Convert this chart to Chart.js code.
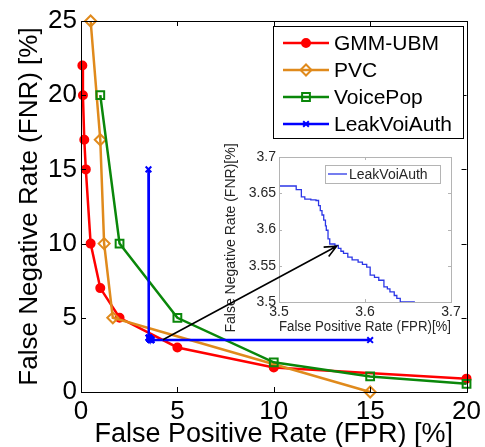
<!DOCTYPE html>
<html>
<head>
<meta charset="utf-8">
<script src="https://cdn.jsdelivr.net/npm/chart.js@4.4.1/dist/chart.umd.min.js"></script>
<style>
  html, body { margin: 0; padding: 0; background: #fff; }
  #wrap { position: relative; width: 485px; height: 447px; }
  canvas { position: absolute; }
</style>
</head>
<body>
<div id="wrap">
  <canvas id="chart" width="485" height="447" style="left:0;top:0"></canvas>
  <canvas id="inset" width="245" height="200" style="left:220px;top:140px"></canvas>
  <canvas id="arrow" width="485" height="447" style="left:0;top:0"></canvas>
</div>
<script>
'use strict';

// values (FPR / FNR in %)
let gmmFpr = [0.07, 0.1, 0.17, 0.25, 0.5, 1, 2, 5, 10, 20];
let gmmFnr = [22, 20, 17, 15, 10, 7, 5, 3, 1.65, 0.9];

let pvcFpr = [0.5, 1, 1.2, 1.65, 15];
let pvcFnr = [25, 17, 10, 5, 0];

let popFpr = [1, 2, 5, 10, 15, 20];
let popFnr = [20, 10, 5, 2, 1.05, 0.55];

// zoomed LeakVoiAuth curve (inset)
let insetFpr = [3.500, 3.515, 3.520, 3.526, 3.530, 3.537, 3.543, 3.546, 3.548, 3.550, 3.552, 3.554,
                3.555, 3.557, 3.559, 3.565, 3.569, 3.572, 3.575, 3.580, 3.585, 3.592, 3.597, 3.602,
                3.606, 3.611, 3.616, 3.622, 3.626, 3.629, 3.634, 3.637, 3.641, 3.658];
let insetFnr = [3.660, 3.660, 3.655, 3.645, 3.642, 3.641, 3.640, 3.633, 3.626, 3.620, 3.613, 3.605,
                3.599, 3.587, 3.580, 3.578, 3.574, 3.570, 3.567, 3.562, 3.558, 3.555, 3.552, 3.548,
                3.537, 3.534, 3.530, 3.521, 3.518, 3.514, 3.509, 3.505, 3.500, 3.500];

// full LeakVoiAuth curve = end points + the zoomed part
let leakFpr = [3.5].concat(insetFpr, [15]);
let leakFnr = [15].concat(insetFnr, [3.5]);

let xTicks = [0, 5, 10, 15, 20];
let yTicks = [0, 5, 10, 15, 20, 25];
let insetXTicks = [3.5, 3.6, 3.7];
let insetYTicks = [3.5, 3.55, 3.6, 3.65, 3.7];

// arrow from the main plot (main units) to the inset (inset units)
let arrowFrom = [4.25, 3.52];
let arrowTo = [3.567, 3.577];

function toPoints(xs, ys) {
    let pts = [];
    for (let i = 0; i < xs.length; i++) pts.push({ x: xs[i], y: ys[i] });
    return pts;
}

const FONT = "'Liberation Sans', Arial, Helvetica, sans-serif";
Chart.defaults.font.family = FONT;

// box round the plot area with MATLAB style inward ticks
const framePlugin = {
    id: 'frame',
    afterDraw(chart, args, opts) {
        let ctx = chart.ctx;
        let a = chart.chartArea;
        let xs = chart.scales.x, ys = chart.scales.y;
        ctx.save();
        ctx.strokeStyle = opts.color;
        ctx.lineWidth = 1;
        ctx.beginPath();
        opts.xTicks.forEach(v => {
            let px = Math.round(xs.getPixelForValue(v)) + 0.5;
            ctx.moveTo(px, a.bottom); ctx.lineTo(px, a.bottom - opts.len);
            ctx.moveTo(px, a.top); ctx.lineTo(px, a.top + opts.len);
        });
        opts.yTicks.forEach(v => {
            let py = Math.round(ys.getPixelForValue(v)) + 0.5;
            ctx.moveTo(a.left, py); ctx.lineTo(a.left + opts.len, py);
            ctx.moveTo(a.right, py); ctx.lineTo(a.right - opts.len, py);
        });
        ctx.stroke();
        ctx.strokeRect(Math.round(a.left) + 0.5, Math.round(a.top) + 0.5,
                       Math.round(a.right - a.left), Math.round(a.bottom - a.top));
        if (opts.sideTitle) {
            let t = opts.sideTitle;
            ctx.fillStyle = t.color;
            ctx.font = t.size + 'px ' + FONT;
            ctx.textAlign = 'center';
            ctx.textBaseline = 'middle';
            ctx.translate(t.x, t.y);
            ctx.rotate(-Math.PI / 2);
            ctx.fillText(t.text, 0, 0);
        }
        ctx.restore();
    }
};

// legend with line + marker samples, in a box
const boxLegendPlugin = {
    id: 'boxLegend',
    afterDraw(chart, args, opts) {
        let ctx = chart.ctx;
        let b = opts.box;
        ctx.save();
        ctx.fillStyle = '#fff';
        ctx.fillRect(b[0], b[1], b[2] - b[0], b[3] - b[1]);
        ctx.strokeStyle = opts.borderColor;
        ctx.lineWidth = 1;
        ctx.strokeRect(b[0] + 0.5, b[1] + 0.5, b[2] - b[0], b[3] - b[1]);
        chart.data.datasets.forEach((ds, i) => {
            let y = opts.firstRow + i * opts.rowGap;
            ctx.strokeStyle = ds.borderColor;
            ctx.lineWidth = ds.borderWidth;
            ctx.beginPath();
            ctx.moveTo(opts.lineX[0], y);
            ctx.lineTo(opts.lineX[1], y);
            ctx.stroke();
            if (ds.pointRadius > 0) {
                ctx.fillStyle = ds.pointBackgroundColor;
                ctx.strokeStyle = ds.borderColor;
                ctx.lineWidth = ds.pointBorderWidth;
                Chart.helpers.drawPoint(ctx, {
                    pointStyle: ds.pointStyle, rotation: 0,
                    radius: ds.pointRadius, borderWidth: ds.pointBorderWidth
                }, (opts.lineX[0] + opts.lineX[1]) / 2, y);
            }
            ctx.fillStyle = opts.textColor;
            ctx.font = opts.fontSize + 'px ' + FONT;
            ctx.textBaseline = 'middle';
            ctx.textAlign = 'left';
            ctx.fillText(ds.label, opts.textX, y + 1);
        });
        ctx.restore();
    }
};

function lineSet(label, xs, ys, color, style, radius, fill, order) {
    return {
        label: label,
        data: toPoints(xs, ys),
        showLine: true,
        borderColor: color,
        backgroundColor: color,
        borderWidth: 2.5,
        pointStyle: style,
        pointRadius: radius,
        pointBackgroundColor: fill,
        pointBorderColor: color,
        pointBorderWidth: 2,
        tension: 0,
        clip: false,
        order: order
    };
}

const noGrid = { display: false, drawTicks: false, tickLength: 0 };

let mainChart = new Chart(document.getElementById('chart'), {
    type: 'scatter',
    data: {
        datasets: [
            lineSet('GMM-UBM', gmmFpr, gmmFnr, '#ff0000', 'circle', 4, '#ff0000', 4),
            lineSet('PVC', pvcFpr, pvcFnr, '#e08a1c', 'rectRot', 5.5, 'rgba(255,255,255,0)', 3),
            lineSet('VoicePop', popFpr, popFnr, '#0a870a', 'rect', 5.5, 'rgba(255,255,255,0)', 2),
            lineSet('LeakVoiAuth', leakFpr, leakFnr, '#0000ff', 'crossRot', 4, '#0000ff', 1)
        ]
    },
    options: {
        responsive: false,
        animation: false,
        events: [],
        layout: { padding: { top: 21, right: 16, left: 0, bottom: 0 } },
        plugins: {
            legend: { display: false },
            tooltip: { enabled: false },
            frame: { color: '#000', len: 5, xTicks: xTicks, yTicks: yTicks },
            boxLegend: {
                box: [273, 26, 463, 138], borderColor: '#000', textColor: '#000',
                firstRow: 43, rowGap: 27, lineX: [283, 329], textX: 334, fontSize: 21
            }
        },
        scales: {
            x: {
                type: 'linear', min: 0, max: 20,
                afterBuildTicks: s => { s.ticks = xTicks.map(v => ({ value: v })); },
                ticks: { color: '#000', font: { size: 26 }, padding: 4, maxRotation: 0 },
                grid: noGrid,
                border: { display: false },
                title: {
                    display: true, text: 'False Positive Rate (FPR) [%]', color: '#000',
                    font: { size: 27, lineHeight: 0.9 }, padding: { top: 0, bottom: 0 }
                },
                afterFit: s => { s.height = 55; }
            },
            y: {
                type: 'linear', min: 0, max: 25,
                afterBuildTicks: s => { s.ticks = yTicks.map(v => ({ value: v })); },
                ticks: { color: '#000', font: { size: 26 }, padding: 4 },
                grid: noGrid,
                border: { display: false },
                title: {
                    display: true, text: 'False Negative Rate (FNR) [%]', color: '#000',
                    font: { size: 26 }, padding: { top: 14, bottom: 0 }
                },
                afterFit: s => { s.width = 81; }
            }
        }
    },
    plugins: [framePlugin, boxLegendPlugin]
});

// inset canvas sits at page (220, 140)
let insetChart = new Chart(document.getElementById('inset'), {
    type: 'scatter',
    data: {
        datasets: [{
            label: 'LeakVoiAuth',
            data: toPoints(insetFpr, insetFnr),
            showLine: true,
            stepped: true,
            borderColor: '#2b36e6',
            backgroundColor: '#2b36e6',
            borderWidth: 1.3,
            pointRadius: 0
        }]
    },
    options: {
        responsive: false,
        animation: false,
        events: [],
        layout: { padding: { top: 17, right: 14, left: 0, bottom: 0 } },
        plugins: {
            legend: { display: false },
            tooltip: { enabled: false },
            frame: {
                color: '#b4b4b4', len: 3, xTicks: insetXTicks, yTicks: insetYTicks,
                sideTitle: { text: 'False Negative Rate (FNR)[%]', x: 11, y: 98, size: 14, color: '#262626' }
            },
            boxLegend: {
                box: [105, 25, 220, 43], borderColor: '#b4b4b4', textColor: '#262626',
                firstRow: 34, rowGap: 18, lineX: [108, 127], textX: 129, fontSize: 14
            }
        },
        scales: {
            x: {
                type: 'linear', min: 3.5, max: 3.7,
                afterBuildTicks: s => { s.ticks = insetXTicks.map(v => ({ value: v })); },
                ticks: { color: '#262626', font: { size: 14 }, padding: 2, maxRotation: 0,
                         callback: v => String(+v.toFixed(2)) },
                grid: noGrid,
                border: { display: false },
                title: {
                    display: true, text: 'False Positive Rate (FPR)[%]', color: '#262626',
                    font: { size: 14 }, padding: { top: 0, bottom: 4 }
                },
                afterFit: s => { s.height = 38; }
            },
            y: {
                type: 'linear', min: 3.5, max: 3.7,
                afterBuildTicks: s => { s.ticks = insetYTicks.map(v => ({ value: v })); },
                ticks: { color: '#262626', font: { size: 14 }, padding: 3,
                         callback: v => String(+v.toFixed(2)) },
                grid: noGrid,
                border: { display: false },
                title: { display: false },
                afterFit: s => { s.width = 59; }
            }
        }
    },
    plugins: [framePlugin, boxLegendPlugin]
});

// arrow on top of both charts
function drawArrow() {
    let ctx = document.getElementById('arrow').getContext('2d');
    let insetEl = document.getElementById('inset');
    let x0 = mainChart.scales.x.getPixelForValue(arrowFrom[0]);
    let y0 = mainChart.scales.y.getPixelForValue(arrowFrom[1]);
    let x1 = insetChart.scales.x.getPixelForValue(arrowTo[0]) + insetEl.offsetLeft;
    let y1 = insetChart.scales.y.getPixelForValue(arrowTo[1]) + insetEl.offsetTop;
    let ang = Math.atan2(y1 - y0, x1 - x0);
    let head = 13, spread = 0.42;
    ctx.strokeStyle = '#000';
    ctx.lineWidth = 1.6;
    ctx.beginPath();
    ctx.moveTo(x0, y0);
    ctx.lineTo(x1, y1);
    ctx.moveTo(x1 - head * Math.cos(ang - spread), y1 - head * Math.sin(ang - spread));
    ctx.lineTo(x1, y1);
    ctx.lineTo(x1 - head * Math.cos(ang + spread), y1 - head * Math.sin(ang + spread));
    ctx.stroke();
}
drawArrow();
</script>
</body>
</html>
